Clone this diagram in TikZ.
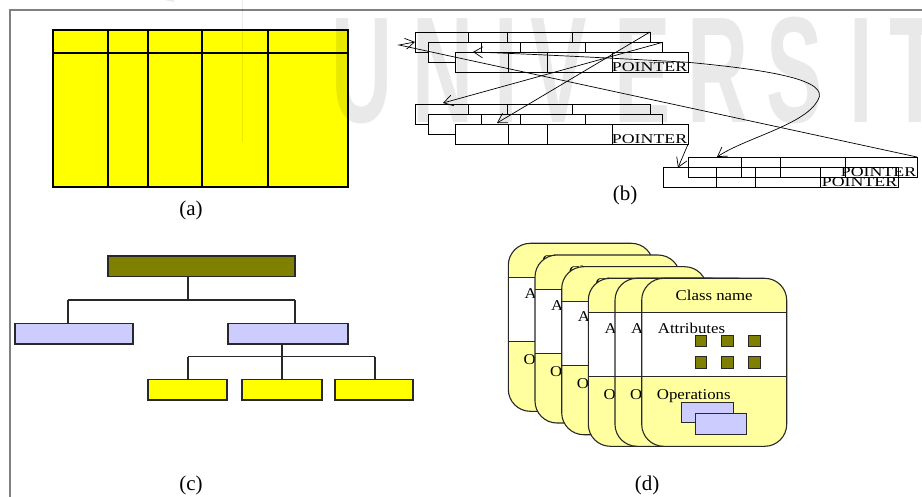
\documentclass[tikz,border=0pt]{standalone}
\usepackage{fontspec}
\setmainfont{Liberation Serif}
\newfontfamily\markfont{Liberation Sans}
\usetikzlibrary{arrows.meta}

\definecolor{tabyellow}{RGB}{255,255,0}
\definecolor{olivebox}{RGB}{128,128,0}
\definecolor{lavender}{RGB}{204,204,255}
\definecolor{cardyellow}{RGB}{255,255,160}
\definecolor{framegray}{RGB}{128,128,128}
\definecolor{inkline}{RGB}{40,40,40}

\tikzset{
  ptrbox/.style={draw=black, line width=0.9pt, minimum height=20pt,
    anchor=north west, inner sep=0pt, outer sep=0pt},
  ptrtxt/.style={font=\fontsize{13.5}{13.5}\selectfont, xscale=1.32,
    inner sep=0.4pt, anchor=south east},
  ptrarrow/.style={draw=black, line width=0.7pt,
    -{Straight Barb[length=9pt,width=11pt]}},
  treebox/.style={draw=inkline, line width=1.4pt, inner sep=0pt,
    minimum height=20.7pt},
  conn/.style={draw=inkline, line width=1.4pt},
  lbl/.style={font=\fontsize{21}{21}\selectfont},
  cardline/.style={draw=inkline, line width=1.1pt},
  cardtxt/.style={font=\fontsize{15}{15}\selectfont, xscale=1.12, inner sep=0pt},
  wm/.style={font=\markfont\bfseries\fontsize{151}{151}\selectfont, xscale=0.56,
    inner sep=0pt, anchor=base west, text=black, opacity=0.085},
}

% one record of a linked list: four fields, the last one holds POINTER
\newcommand\ptrrow[5]{%
  \node[ptrbox, minimum width=#4pt, fill=#5] (#1) at (#2,#3) {};
  \foreach \d in {53,92,157}
    \draw[line width=0.9pt] ([xshift=\d pt]#1.north west) -- ([xshift=\d pt]#1.south west);
  \node[ptrtxt] (#1t) at (#1.south east) {POINTER};
}

\begin{document}
\begin{tikzpicture}[x=1pt,y=-1pt]
\useasboundingbox (0,0) rectangle (922,497);

% page frame
\draw[framegray, line width=1.2pt] (10,497) -- (10,10) -- (922,10);

% ---------- (a) flat table ----------
\draw[fill=tabyellow, line width=2pt] (53,30) rectangle (348,187);
\draw[line width=1.2pt] (53,53) -- (348,53);
\foreach \x in {108,148,202,268}
  \draw[line width=1.2pt] (\x,30) -- (\x,187);
\node[lbl] (la) at (191,210) {(a)};

% ---------- (b) linked records ----------
\ptrrow{r11}{415}{32}{235}{white}
\ptrrow{r12}{428}{42.5}{234}{white}
\ptrrow{r13}{455}{52.3}{233}{white}

\ptrrow{r21}{415}{104}{235}{white}
\ptrrow{r22}{428}{114.5}{234}{white}
\ptrrow{r23}{455}{124.3}{233}{white}

\ptrrow{r3b}{663}{167.7}{235}{none}
\ptrrow{r3a}{688}{157}{229}{none}

\coordinate (bend) at (399,45);
\coordinate (tipA) at (473,52);
\coordinate (tipD) at (497,123);
\coordinate (tipE) at (443,103);

\draw[ptrarrow] (r3a.north east) -- (bend) -- (r11.west);
\draw[ptrarrow] (r13.east) .. controls (610,58) and (530,54) .. (tipA);
\draw[ptrarrow] (r13.east) .. controls (770,70) and (830,80) .. (818,100)
  .. controls (805,125) and (745,138) .. ([xshift=29pt]r3a.north west);
\draw[ptrarrow] (r11.north east) -- (tipD);
\draw[ptrarrow] (r12.north east) -- (tipE);
\draw[ptrarrow] (r23.south east) -- ([xshift=15pt]r3b.north west);

\node[lbl] (lb) at (625,195) {(b)};

% ---------- (c) hierarchy ----------
\node[treebox, fill=olivebox, minimum width=187pt] (troot) at (201.5,266.3) {};
\node[treebox, fill=lavender, minimum width=118pt] (tl) at (74,333.7) {};
\node[treebox, fill=lavender, minimum width=120pt] (tr) at (288,333.7) {};
\node[treebox, fill=tabyellow, minimum width=79pt] (tb1) at (187.5,389.7) {};
\node[treebox, fill=tabyellow, minimum width=80pt] (tb2) at (282,389.7) {};
\node[treebox, fill=tabyellow, minimum width=78pt] (tb3) at (374,389.7) {};

\coordinate (j1) at (188,300);
\coordinate (j1l) at (68,300);
\coordinate (j1r) at (295,300);
\coordinate (j2) at (282,356.7);
\coordinate (j2l) at (188,356.7);
\coordinate (j2r) at (375,356.7);

\draw[conn] (troot.south -| j1) -- (j1);
\draw[conn] (j1l) -- (j1r);
\draw[conn] (j1l) -- (tl.north -| j1l);
\draw[conn] (j1r) -- (tr.north -| j1r);
\draw[conn] (tr.south -| j2) -- (j2);
\draw[conn] (j2l) -- (j2r);
\draw[conn] (j2l) -- (tb1.north -| j2l);
\draw[conn] (j2) -- (tb2.north);
\draw[conn] (j2r) -- (tb3.north -| j2r);

\node[lbl] (lc) at (191,485) {(c)};

% ---------- (d) stack of class cards ----------
\foreach \cx/\cy [count=\k] in {508.3/243.3, 535/255, 561.7/266.7,
                               588.3/278.3, 615/278.3, 641.7/278.3} {
  \begin{scope}[shift={(\cx,\cy)}]
    \begin{scope}
      \clip[rounded corners=22pt] (0,0) rectangle (145,168);
      \fill[cardyellow] (0,0) rectangle (145,168);
      \fill[white] (0,34.4) rectangle (145,98.4);
      \draw[cardline] (0,34.4) -- (145,34.4) (0,98.4) -- (145,98.4);
    \end{scope}
    \draw[cardline, rounded corners=22pt] (0,0) rectangle (145,168);
    \node[cardtxt] (cls\k) at (72.5,16.7) {Class name};
    \node[cardtxt, anchor=west] (att\k) at (16,50) {Attributes};
    \node[cardtxt, anchor=west] (ops\k) at (15,118) {Operations};
    \foreach \sx in {53.3,80,106.6}
      \foreach \sy in {56.7,78.4}
        \filldraw[fill=olivebox, draw=inkline, line width=0.8pt] (\sx,\sy) rectangle ++(11.7,11.7);
    \filldraw[fill=lavender, draw=inkline, line width=0.8pt] (40,124.4) rectangle (91.6,144.4);
    \filldraw[fill=lavender, draw=inkline, line width=0.8pt] (53.3,135) rectangle (105,155.7);
  \end{scope}
}

\node[lbl] (ld) at (647,485) {(d)};

% ---------- faint watermark on top ----------
\begin{scope}[opacity=0.085]
  \draw[black, line width=14pt] (175,-5) arc[start angle=100, end angle=150, radius=240];
  \draw[black, line width=10pt] (95,-5) arc[start angle=110, end angle=150, radius=120];
  \draw[black, line width=0.8pt] (242,0) -- (242,142);
\end{scope}
\node[wm] (w1) at (331,123) {U};
\node[wm] (w2) at (412,123) {N};
\node[wm] (w3) at (494,123) {I};
\node[wm] (w4) at (530,123) {V};
\node[wm] (w5) at (614,123) {E};
\node[wm] (w6) at (687,123) {R};
\node[wm] (w7) at (766,123) {S};
\node[wm] (w8) at (849,123) {I};
\node[wm] (w9) at (889,123) {T};
\end{tikzpicture}
\end{document}
